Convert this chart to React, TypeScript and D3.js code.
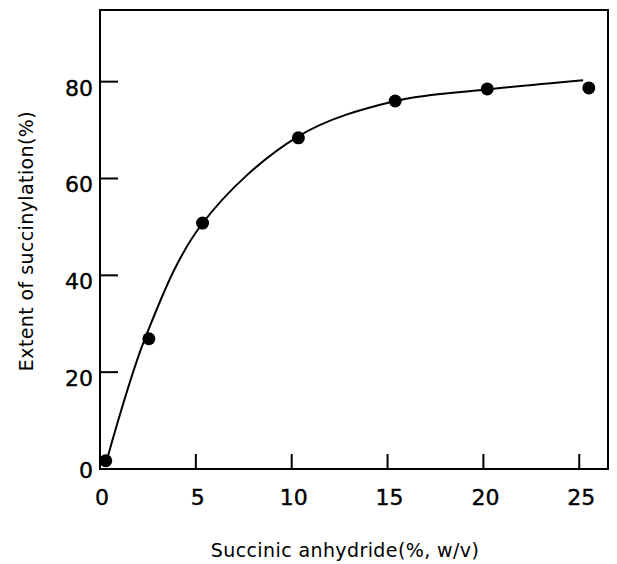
import { useEffect, useRef } from "react";
import * as d3 from "d3";

const measured: [number, number][] = [
  [0.3, 1.7],
  [2.55, 26.9],
  [5.35, 50.8],
  [10.35, 68.4],
  [15.4, 76.0],
  [20.2, 78.5],
  [25.5, 78.7],
];

// hand-drawn fit line from the figure
const fitCurve: [number, number][] = [
  [0.3, 1.0],
  [2.4, 27.5],
  [5.3, 50.5],
  [10.3, 68.6],
  [15.4, 76.0],
  [20.2, 78.4],
  [25.2, 80.3],
];

const xTicks = [5, 10, 15, 20, 25];
const xLabels = [0, 5, 10, 15, 20, 25];
const yTicks = [20, 40, 60, 80];
const yLabels = [0, 20, 40, 60, 80];

const width = 617;
const height = 564;
const margin = { top: 10, right: 9, bottom: 95, left: 100 };
const font = "'DejaVu Sans', 'Liberation Sans', sans-serif";

export default function App() {
  const ref = useRef<SVGSVGElement | null>(null);

  useEffect(() => {
    if (!ref.current) return;
    const svg = d3.select(ref.current);
    svg.selectAll("*").remove();

    const x = d3.scaleLinear().domain([0, 26.5]).range([margin.left, width - margin.right]);
    const y = d3.scaleLinear().domain([0, 94.8]).range([height - margin.bottom, margin.top]);

    svg
      .append("rect")
      .attr("x", x(0))
      .attr("y", y(94.8))
      .attr("width", x(26.5) - x(0))
      .attr("height", y(0) - y(94.8))
      .attr("fill", "none")
      .attr("stroke", "#000")
      .attr("stroke-width", 2);

    // inward ticks
    svg
      .selectAll("line.xt")
      .data(xTicks)
      .join("line")
      .attr("class", "xt")
      .attr("x1", (d) => x(d))
      .attr("x2", (d) => x(d))
      .attr("y1", y(0))
      .attr("y2", y(0) - 15)
      .attr("stroke", "#000")
      .attr("stroke-width", 2);

    svg
      .selectAll("line.yt")
      .data(yTicks)
      .join("line")
      .attr("class", "yt")
      .attr("x1", x(0))
      .attr("x2", x(0) + 18)
      .attr("y1", (d) => y(d))
      .attr("y2", (d) => y(d))
      .attr("stroke", "#000")
      .attr("stroke-width", 2);

    svg
      .selectAll("text.xl")
      .data(xLabels)
      .join("text")
      .attr("class", "xl")
      .attr("x", (d) => x(d) + 2)
      .attr("y", y(0) + 36)
      .attr("text-anchor", "middle")
      .attr("font-family", font)
      .attr("font-size", 22)
      .attr("stroke", "#000")
      .attr("stroke-width", 0.4)
      .text((d) => d);

    svg
      .selectAll("text.yl")
      .data(yLabels)
      .join("text")
      .attr("class", "yl")
      .attr("x", x(0) - 7)
      .attr("y", (d) => y(d) + (d === 0 ? 9 : 14))
      .attr("text-anchor", "end")
      .attr("font-family", font)
      .attr("font-size", 22)
      .attr("stroke", "#000")
      .attr("stroke-width", 0.4)
      .text((d) => d);

    svg
      .append("path")
      .datum(fitCurve)
      .attr("fill", "none")
      .attr("stroke", "#000")
      .attr("stroke-width", 2)
      .attr(
        "d",
        d3
          .line<[number, number]>()
          .x((d) => x(d[0]))
          .y((d) => y(d[1]))
          .curve(d3.curveCatmullRom.alpha(0.5)),
      );

    svg
      .selectAll("circle")
      .data(measured)
      .join("circle")
      .attr("cx", (d) => x(d[0]))
      .attr("cy", (d) => y(d[1]))
      .attr("r", 6.5)
      .attr("fill", "#000");

    svg
      .append("text")
      .attr("x", 345)
      .attr("y", 557)
      .attr("text-anchor", "middle")
      .attr("font-family", font)
      .attr("font-size", 19)
      .attr("letter-spacing", 0.4)
      .text("Succinic anhydride(%, w/v)");

    svg
      .append("text")
      .attr("transform", `translate(33, 241) rotate(-90)`)
      .attr("text-anchor", "middle")
      .attr("font-family", font)
      .attr("font-size", 19)
      .attr("letter-spacing", 0.4)
      .text("Extent of succinylation(%)");
  }, []);

  return (
    <svg
      ref={ref}
      width={width}
      height={height}
      viewBox={`0 0 ${width} ${height}`}
      style={{ position: "absolute", left: 0, top: 0, background: "#fff" }}
    />
  );
}
